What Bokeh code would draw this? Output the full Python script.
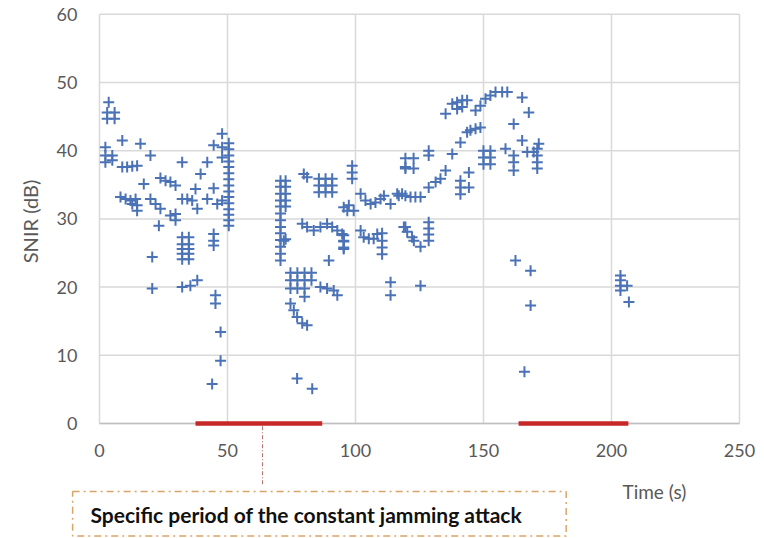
import math
from bokeh.plotting import figure
from bokeh.models import Label, LinearAxis, FixedTicker, Range1d, ColumnDataSource
from bokeh.embed import file_html
from bokeh.resources import INLINE

# ---- data ----
time_s = [
    3.6, 3.0, 5.9, 3.0, 5.9, 8.9, 16.0, 2.3, 2.3, 2.3, 5.0, 5.0, 8.9, 10.8, 12.8, 14.7,
    19.9, 32.3, 42.1, 39.5, 17.3, 23.8, 25.8, 27.7, 29.7, 37.5, 44.6,
    8.2, 10.2, 12.1, 14.1, 14.7, 14.7, 12.8, 19.9, 21.9, 23.8, 27.7, 29.7, 29.7, 23.2,
    32.3, 34.3, 36.2, 38.2, 42.1, 46.0, 20.6, 20.6,
    32.3, 32.3, 32.3, 32.3, 32.3, 34.9, 34.9, 34.9, 34.9, 34.9,
    44.6, 44.6, 44.6, 32.3, 35.5, 38.2, 45.3, 45.3, 47.3, 47.3, 44.0,
    50.5, 50.5, 50.5, 50.5, 50.5, 50.5, 50.5, 50.5, 50.5, 50.5, 50.5, 50.5, 50.5, 50.5, 50.5,
    47.9, 47.9, 47.9, 47.9, 44.6,
    70.7, 70.7, 70.7, 70.7, 70.7, 70.7, 70.7, 70.7, 70.7, 70.7, 70.7, 70.7, 70.7,
    72.7, 72.7, 72.7, 72.7, 72.7, 72.7,
    79.8, 81.1, 85.7, 88.3, 90.9, 85.7, 88.3, 90.9, 85.7, 88.3, 90.9,
    95.4, 96.8, 79.2, 81.1, 83.7, 86.3, 88.9, 90.9, 92.9, 94.8, 95.4, 95.4,
    72.0, 89.6,
    74.6, 77.3, 80.1, 82.8, 74.6, 77.3, 80.1, 82.8, 77.3, 80.1, 74.6, 80.1,
    86.3, 88.9, 91.5, 92.9, 74.6, 75.9, 77.2, 79.2, 81.1, 77.2, 83.1,
    98.7, 98.7, 98.7, 97.4, 99.3,
    102.0, 103.9, 105.9, 107.8, 109.8, 111.1, 113.7, 116.3, 118.2, 119.5,
    95.4, 95.4, 95.4, 102.0, 103.2, 105.2, 107.1, 108.5,
    110.4, 110.4, 110.4, 110.4, 113.7, 113.7, 119.5,
    116.9, 119.5, 121.5, 123.4, 125.4, 128.6, 131.3, 133.2,
    119.5, 122.7, 119.5, 122.7, 128.6, 128.6, 135.2, 137.8,
    141.0, 143.6, 144.9, 146.9, 148.8,
    135.2, 137.8, 139.7, 141.7, 143.6, 139.7, 141.7,
    146.9, 148.8, 150.8, 152.7, 154.7, 157.3, 159.3, 165.1, 167.7,
    161.8, 165.1, 158.6, 167.1, 169.6, 171.6,
    171.0, 171.0, 171.0, 171.0,
    150.0, 150.0, 150.0, 152.7, 152.7, 152.7,
    161.8, 161.8, 161.8, 141.0, 141.0, 141.0, 144.3, 144.3,
    118.9, 120.2, 122.1, 122.8, 125.4, 128.6, 128.6, 128.6, 128.6, 125.4,
    162.5, 168.4, 168.4, 166.0,
    203.5, 203.5, 203.5, 203.5, 206.1, 206.8,
]
snir_db = [
    47.1, 45.6, 45.6, 44.7, 44.7, 41.5, 41.0, 40.5, 39.3, 38.3, 39.3, 38.6, 37.6, 37.6, 37.7, 37.8,
    39.3, 38.3, 38.3, 36.6, 35.1, 36.0, 35.6, 35.4, 34.9, 34.4, 34.5,
    33.2, 32.9, 32.7, 32.9, 32.0, 31.2, 32.2, 32.9, 32.2, 31.5, 30.5, 30.7, 29.8, 29.0,
    32.9, 32.9, 32.7, 31.5, 32.9, 32.2, 24.4, 19.8,
    27.3, 26.3, 25.6, 24.9, 24.1, 27.3, 26.3, 25.6, 24.9, 24.1,
    27.8, 26.8, 26.1, 20.0, 20.2, 21.0, 18.8, 17.6, 13.4, 9.2, 5.8,
    41.1, 40.2, 39.3, 38.4, 37.6, 36.7, 35.8, 34.9, 34.0, 33.2, 32.3, 31.4, 30.6, 29.8, 29.0,
    42.5, 40.5, 39.0, 32.7, 40.8,
    35.6, 34.7, 33.7, 32.7, 31.8, 30.8, 29.8, 28.8, 27.9, 26.9, 25.9, 24.9, 23.9,
    35.6, 34.7, 33.7, 32.7, 31.8, 27.0,
    36.6, 36.1, 35.9, 35.9, 35.9, 34.9, 34.9, 34.9, 33.9, 33.9, 33.9,
    31.7, 31.2, 29.3, 28.8, 28.3, 28.8, 29.3, 28.8, 28.3, 27.8, 26.8, 25.6,
    26.8, 23.9,
    22.1, 22.1, 22.1, 22.1, 21.0, 21.0, 21.0, 21.0, 19.8, 19.8, 19.8, 18.6,
    20.0, 19.8, 19.5, 18.8, 17.6, 16.6, 15.6, 14.7, 14.4, 6.6, 5.1,
    37.8, 36.8, 35.9, 32.0, 31.2,
    33.7, 32.7, 32.2, 32.4, 32.9, 33.4, 32.2, 33.7, 33.7, 37.6,
    27.6, 26.7, 25.8, 28.3, 27.3, 27.1, 27.1, 27.8,
    27.9, 26.8, 25.8, 24.8, 20.7, 18.8, 28.8,
    33.4, 33.4, 33.2, 33.2, 33.2, 34.6, 35.4, 35.9,
    38.9, 38.9, 37.4, 37.4, 40.0, 39.3, 37.1, 39.5,
    41.2, 42.7, 43.0, 43.2, 43.4,
    45.4, 46.9, 47.1, 47.4, 47.4, 46.1, 46.4,
    45.9, 46.6, 47.6, 48.1, 48.6, 48.6, 48.6, 47.8, 45.6,
    43.9, 41.5, 40.3, 39.8, 39.8, 41.0,
    40.3, 39.3, 38.3, 37.4,
    40.0, 39.0, 38.0, 40.0, 39.0, 38.0,
    39.3, 38.3, 37.1, 35.6, 34.6, 33.6, 34.6, 36.8,
    28.8, 28.1, 27.3, 26.8, 25.9, 29.5, 28.6, 27.7, 26.8, 20.2,
    23.9, 22.4, 17.3, 7.6,
    21.7, 21.0, 20.2, 19.5, 20.2, 17.8,
]
x_ticks = [0, 50, 100, 150, 200, 250]
y_ticks = [0, 10, 20, 30, 40, 50, 60]
jam_start = [37.5, 163.7]
jam_end = [87.0, 206.6]
x_title = "Time (s)"
y_title = "SNIR (dB)"
note_text = "Specific period of the constant jamming attack"

FONT = "Lato"
GREY = "#595959"

# The frame covers the whole canvas; the ranges are chosen so that the
# 0..250 / 0..60 chart area sits where the reference draws it.
p = figure(width=764, height=538, output_backend="svg", toolbar_location=None,
           x_range=Range1d(-38.67, 259.77), y_range=Range1d(-16.86, 62.02),
           x_axis_location=None, y_axis_location=None,
           min_border=0)
p.outline_line_color = None
p.grid.visible = False
p.background_fill_color = "white"
p.border_fill_color = "white"

xmin, xmax = x_ticks[0], x_ticks[-1]
ymin, ymax = y_ticks[0], y_ticks[-1]

# gridlines
p.segment(x0=x_ticks, y0=[ymin] * len(x_ticks), x1=x_ticks, y1=[ymax] * len(x_ticks),
          line_color="#d9d9d9", line_width=1.5)
p.segment(x0=[xmin] * len(y_ticks), y0=y_ticks, x1=[xmax] * len(y_ticks), y1=y_ticks,
          line_color="#d9d9d9", line_width=1.5)

# axes at the chart origin
xaxis = LinearAxis(fixed_location=0, bounds=(xmin, xmax), ticker=FixedTicker(ticks=x_ticks))
yaxis = LinearAxis(fixed_location=0, bounds=(ymin, ymax), ticker=FixedTicker(ticks=y_ticks))
for ax in (xaxis, yaxis):
    ax.major_tick_in = 0
    ax.major_tick_out = 0
    ax.minor_tick_in = 0
    ax.minor_tick_out = 0
    ax.major_label_text_font = FONT
    ax.major_label_text_font_size = "18px"
    ax.major_label_text_color = GREY
xaxis.axis_line_color = "#bfbfbf"
xaxis.axis_line_width = 1.5
xaxis.major_label_standoff = 20
yaxis.axis_line_color = None
yaxis.major_label_standoff = 22
p.add_layout(xaxis, "below")
p.add_layout(yaxis, "left")

# data
src = ColumnDataSource(dict(t=time_s, snir=snir_db))
p.scatter("t", "snir", source=src, marker="cross", size=11,
          line_color="#4a72b5", line_width=2)

# jamming periods on the time axis
p.segment(x0=jam_start, y0=[0] * len(jam_start), x1=jam_end, y1=[0] * len(jam_end),
          line_color="#c62828", line_width=4.5, level="overlay")

# connector from the first jamming period to the note box
p.segment(x0=[63.7], y0=[-0.4], x1=[63.7], y1=[-9.1],
          line_color="#b06a6a", line_width=1, line_dash="4 2 1 2")

# note box
p.quad(left=[-10.5], right=[182.3], top=[-9.97], bottom=[-16.5],
       fill_color=None, line_color="#d9a566", line_width=1.5, line_dash="7 4 2 4")
p.add_layout(Label(x=-3.5, y=-13.3, text=note_text, text_font=FONT,
                   text_font_size="21px", text_font_style="bold",
                   text_color="#111111", text_baseline="middle", text_align="left"))

# titles
p.add_layout(Label(x=204.3, y=-10.0, text=x_title, text_font=FONT,
                   text_font_size="19px", text_color=GREY,
                   text_baseline="middle", text_align="left"))
p.add_layout(Label(x=-27.3, y=23.5, text=y_title, text_font=FONT,
                   text_font_size="20px", text_color=GREY, angle=math.pi / 2,
                   text_baseline="middle", text_align="left"))

open("out.html", "w").write(file_html(p, INLINE))
